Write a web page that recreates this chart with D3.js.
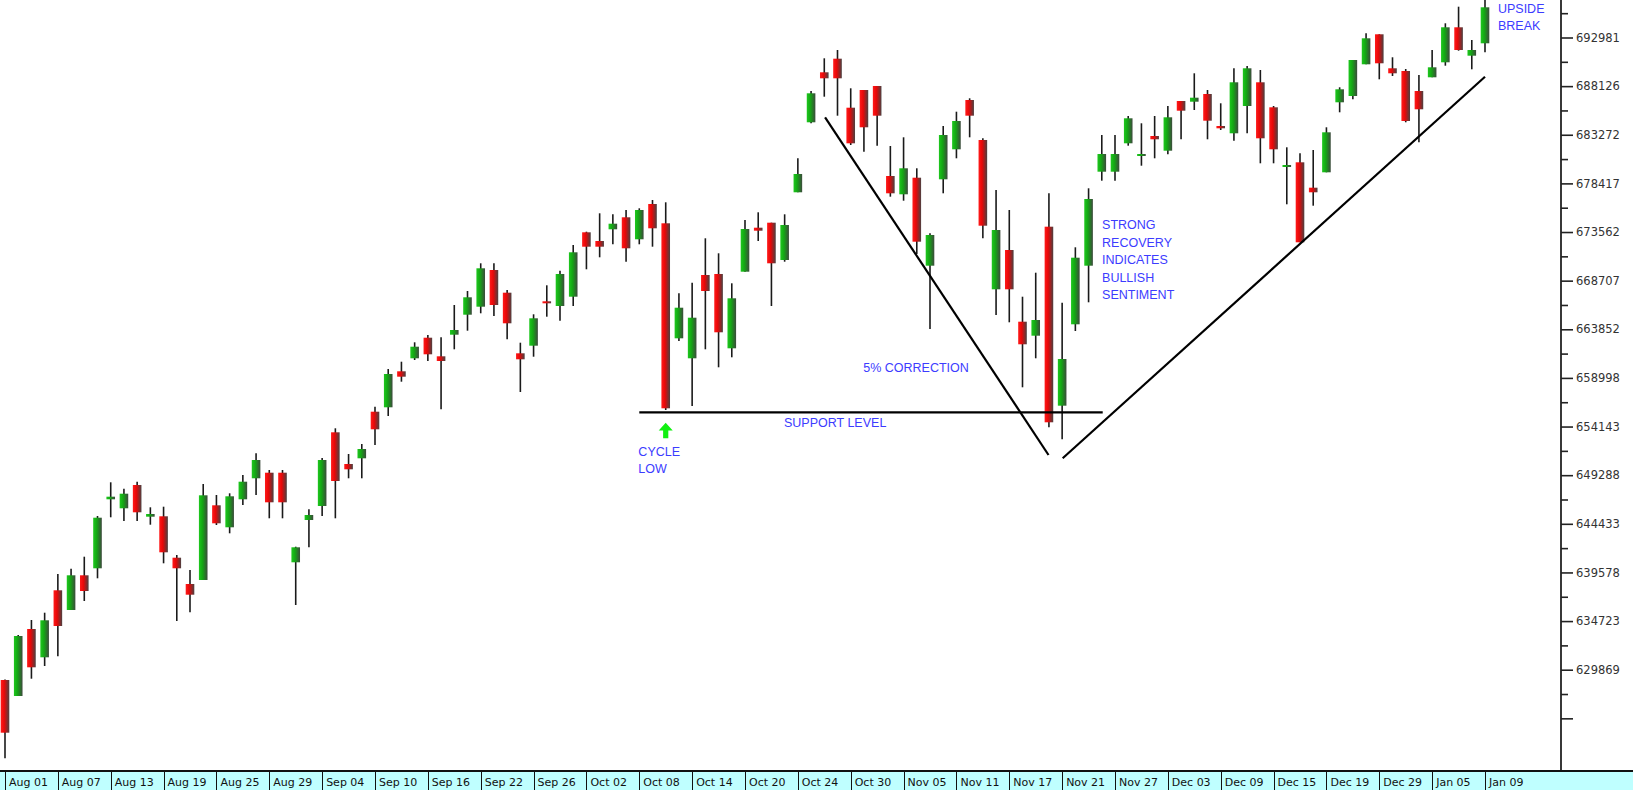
<!DOCTYPE html>
<html><head><meta charset="utf-8">
<script src="https://cdn.jsdelivr.net/npm/d3@7/dist/d3.min.js"></script>
<style>html,body{margin:0;padding:0;background:#fff;overflow:hidden}</style>
</head><body><svg id="c" width="1633" height="790"></svg>
<script>
// ---- data ----
const xTickLabels=["Aug 01","Aug 07","Aug 13","Aug 19","Aug 25","Aug 29","Sep 04","Sep 10","Sep 16","Sep 22","Sep 26","Oct 02","Oct 08","Oct 14","Oct 20","Oct 24","Oct 30","Nov 05","Nov 11","Nov 17","Nov 21","Nov 27","Dec 03","Dec 09","Dec 15","Dec 19","Dec 29","Jan 05","Jan 09"];
const barsPerLabel=4;
const yTickValues=[629869,634723,639578,644433,649288,654143,658998,663852,668707,673562,678417,683272,688126,692981];
const yUnlabeledTicks=[625014];

const openV=[628841,627243,633932,631107,637795,635829,639293,639992,646880,645982,648307,645143,645183,641050,638424,638824,646281,644085,646880,648977,649535,649535,640591,644813,646211,653568,650404,650973,655625,656064,659658,660956,663012,661155,663312,665308,666107,669771,667505,661455,662214,666646,666177,667105,673534,672666,673834,675032,672836,676360,674433,662952,660956,669272,669372,661954,669601,673994,674493,670769,677528,684516,689507,690865,685973,687740,688140,679155,677328,678985,670200,678825,681820,686742,682749,667844,671767,664610,663212,674094,656224,664350,670200,679584,679584,682419,681181,683148,681681,686642,686572,687341,684146,683418,686143,688509,686013,680083,680522,677987,679524,686512,687141,690306,693301,689907,689637,687640,689008,690506,694000,691164,692402];
const highV=[628900,633333,634830,635559,639423,639952,641150,645213,648577,647938,648637,646081,646141,641319,639822,648407,647309,647479,649306,651472,649805,649805,642148,645882,651003,653968,651402,652400,656124,659888,660616,662553,663282,663052,666277,667674,670440,670440,667774,662513,665349,668243,669701,672267,673594,675431,675331,675761,675930,676759,676529,667445,668503,672936,671438,668443,674762,675531,674493,675331,680922,687640,690905,691733,687910,687740,688140,682150,683018,679924,673435,684146,685574,686912,682919,677757,675761,667105,669501,677428,666507,672037,677927,683248,683248,685145,684416,685145,686143,686642,689407,687740,686413,689907,690136,689737,686143,682020,681421,681750,684017,688010,690735,693401,693301,691005,689837,689238,691733,694399,696056,692732,696725];
const lowV=[621024,627243,628970,630238,631207,635829,636727,638993,645083,644714,644714,644344,640491,634731,635599,638824,644314,643485,646311,647309,644983,644983,636328,642088,645213,644983,648977,648977,652301,655196,658620,660786,660686,655864,661854,663711,665448,665179,662853,657592,661115,665109,664710,666177,669841,671039,672337,670599,672337,672097,655795,662683,656194,661854,660058,661056,669601,672666,666177,670599,677528,684416,687072,685175,682250,681581,682180,677089,676689,671368,663881,677428,680922,683018,672935,665279,664550,658061,660956,654068,652869,663681,666546,678686,678686,682180,680183,680922,681321,682819,685744,682819,683747,682679,683418,680423,680423,676330,672536,676190,679524,685514,686812,690306,688808,689138,684516,682519,689008,690166,691664,689807,691504];
const closeV=[623580,633233,630108,634801,634231,639293,637725,645043,647140,647439,645582,645412,641589,639992,637356,647279,644484,647179,648637,650803,646580,646580,642088,645313,650803,648707,649874,651901,653868,659389,659119,662114,661355,660686,663781,667046,669941,666277,664450,660856,664949,666447,669372,671538,672097,672097,674393,671937,675761,673934,655964,666007,665009,667674,663552,666946,673864,673694,670440,674263,679355,687411,688908,688908,682419,684017,685175,677428,679924,672596,673265,683248,684646,685175,674193,673764,667844,662354,664779,654567,660886,670999,676859,681351,681351,684915,681351,682819,685015,685674,686972,684676,683917,688509,689907,682919,681820,680253,672536,677528,683517,687810,690735,692901,690406,689407,684646,685814,690006,694000,691733,691733,695996];

// annotation lines in data units (bar index, value)
const supportLine=[[48.0,655565],[83.07,655565]];
const fallLine=[[62.06,685015],[78.97,651302]];
const riseLine=[[80.04,650973],[112.0,689068]];
// annotation texts in data units
const notes=[
 {t:"CYCLE",i:47.93,v:651203},{t:"LOW",i:47.93,v:649506},
 {t:"SUPPORT LEVEL",i:58.95,v:654100},
 {t:"5% CORRECTION",i:64.95,v:659588},
 {t:"STRONG",i:83.02,v:673814},{t:"RECOVERY",i:83.02,v:672067},{t:"INDICATES",i:83.02,v:670320},{t:"BULLISH",i:83.02,v:668573},{t:"SENTIMENT",i:83.02,v:666826},
 {t:"UPSIDE",i:112.98,v:695427},{t:"BREAK",i:112.98,v:693680}
];
const arrowAt={i:50,tip:654527,base:652970};

// ---- chart ----
const W=1633,H=790,plotBottom=771,axisX=1561;
const svg=d3.select("#c");
const x=d3.scaleLinear().domain([0,openV.length-1]).range([5,1485]);
const y=d3.scaleLinear().domain([629869,692981]).range([669.7,37.5]);

const defs=svg.append("defs");
function grad(id,stops){
  const g=defs.append("linearGradient").attr("id",id).attr("x1","0%").attr("x2","100%").attr("y1","0%").attr("y2","0%");
  stops.forEach(s=>g.append("stop").attr("offset",s[0]).attr("stop-color",s[1]));
}
grad("gRed",[["0%","#ff1a1a"],["40%","#e80808"],["100%","#4a4040"]]);
grad("gGreen",[["0%","#1ec81e"],["40%","#14a814"],["100%","#3c4a3c"]]);
defs.append("clipPath").attr("id","plotClip").append("rect").attr("x",0).attr("y",0).attr("width",axisX).attr("height",plotBottom);

const bars=openV.map((o,i)=>({i,o,h:highV[i],l:lowV[i],c:closeV[i]}));
const plot=svg.append("g").attr("clip-path","url(#plotClip)");

// wicks
plot.selectAll("line.wick").data(bars).join("line").attr("class","wick")
 .attr("x1",d=>x(d.i)).attr("x2",d=>x(d.i))
 .attr("y1",d=>y(d.h)).attr("y2",d=>y(d.l))
 .attr("stroke","#1a1a1a").attr("stroke-width",1.6);
// bodies
const bw=8.6;
plot.selectAll("rect.body").data(bars).join("rect").attr("class","body")
 .attr("x",d=>x(d.i)-bw/2).attr("width",bw)
 .attr("y",d=>Math.min(y(d.o),y(d.c)))
 .attr("height",d=>Math.max(2,Math.abs(y(d.o)-y(d.c))))
 .attr("fill",d=>d.c>=d.o?"url(#gGreen)":"url(#gRed)");

// trend / support lines
const lineGen=d3.line().x(d=>x(d[0])).y(d=>y(d[1]));
[supportLine,fallLine,riseLine].forEach(L=>{
  plot.append("path").attr("d",lineGen(L)).attr("fill","none").attr("stroke","#000").attr("stroke-width",2.2);
});

// green arrow
{
  const ax=x(arrowAt.i), yt=y(arrowAt.tip), yb=y(arrowAt.base);
  const hh=(yb-yt)*0.5;
  const p=d3.path();
  p.moveTo(ax,yt); p.lineTo(ax+7,yt+hh); p.lineTo(ax+2.6,yt+hh); p.lineTo(ax+2.6,yb);
  p.lineTo(ax-2.6,yb); p.lineTo(ax-2.6,yt+hh); p.lineTo(ax-7,yt+hh); p.closePath();
  plot.append("path").attr("d",p.toString()).attr("fill","#12f012");
}

// annotations
svg.append("g").selectAll("text").data(notes).join("text")
 .attr("x",d=>x(d.i)).attr("y",d=>y(d.v)).text(d=>d.t)
 .attr("fill","#3c3cff").attr("font-family","'Liberation Sans',Arial,sans-serif").attr("font-size","12.5px");

// right axis
svg.append("line").attr("x1",axisX).attr("x2",axisX).attr("y1",0).attr("y2",plotBottom).attr("stroke","#222").attr("stroke-width",1.8);
const majors=yUnlabeledTicks.concat(yTickValues);
const minors=majors.slice(0,-1).map((v,k)=>(v+majors[k+1])/2).concat([yTickValues[yTickValues.length-1]+(yTickValues[1]-yTickValues[0])/2]);
const yAxis=d3.axisRight(y).tickValues(majors).tickSize(12).tickPadding(3)
  .tickFormat(d=>yTickValues.includes(d)?String(d):"");
const ga=svg.append("g").attr("transform",`translate(${axisX},0)`).call(yAxis);
ga.select(".domain").remove();
ga.selectAll(".tick line").attr("stroke","#222").attr("stroke-width",1.6);
ga.selectAll(".tick text").attr("fill","#333").attr("font-family","'DejaVu Sans',sans-serif").attr("font-size","11.5px");
const gm=svg.append("g").attr("transform",`translate(${axisX},0)`).call(d3.axisRight(y).tickValues(minors).tickSize(7).tickFormat(""));
gm.select(".domain").remove();
gm.selectAll(".tick line").attr("stroke","#222").attr("stroke-width",1.6);

// bottom date strip
const strip=svg.append("g");
strip.append("rect").attr("x",0).attr("y",plotBottom).attr("width",W).attr("height",H-plotBottom).attr("fill","#bfffff");
strip.append("line").attr("x1",0).attr("x2",W).attr("y1",plotBottom).attr("y2",plotBottom).attr("stroke","#111").attr("stroke-width",2);
const xt=xTickLabels.map((t,k)=>({t,i:k*barsPerLabel}));
strip.selectAll("line.div").data(xt).join("line").attr("class","div")
 .attr("x1",d=>Math.round(x(d.i))+0.5).attr("x2",d=>Math.round(x(d.i))+0.5)
 .attr("y1",plotBottom).attr("y2",H).attr("stroke","#111").attr("stroke-width",1);
strip.selectAll("text").data(xt).join("text")
 .attr("x",d=>x(d.i)+4).attr("y",786).text(d=>d.t)
 .attr("fill","#111").attr("font-family","'DejaVu Sans',sans-serif").attr("font-size","11px");
</script></body></html>
